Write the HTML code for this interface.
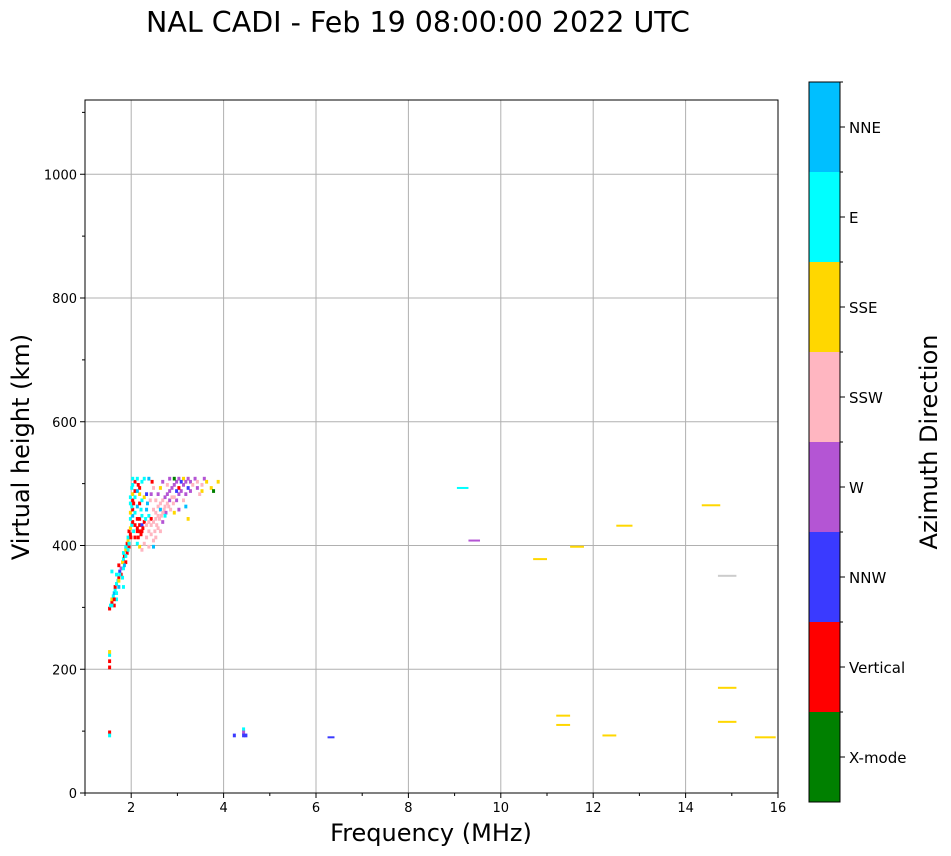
<!DOCTYPE html>
<html><head><meta charset="utf-8"><style>
body{margin:0;background:#fff;}
svg{display:block;font-family:"DejaVu Sans","Liberation Sans",sans-serif;}
</style></head><body>
<svg id="chart" width="951" height="856" viewBox="0 0 951 856" xmlns="http://www.w3.org/2000/svg">
<text x="418" y="32" font-size="28.5" text-anchor="middle">NAL CADI - Feb 19 08:00:00 2022 UTC</text>
<g id="grid"></g>
<g id="marks"></g>
<rect x="85" y="100" width="693" height="693" fill="none" stroke="#000" stroke-width="1"/>
<g id="axes"></g>
<text x="431" y="841" font-size="24" text-anchor="middle">Frequency (MHz)</text>
<text transform="translate(29,447) rotate(-90)" font-size="24" text-anchor="middle">Virtual height (km)</text>
<g id="cbar"></g>
<text transform="translate(937,442) rotate(-90)" font-size="24" text-anchor="middle">Azimuth Direction</text>
</svg>
<script>
const categories=["X-mode","Vertical","NNW","W","SSW","SSE","E","NNE"];
const colors=["#008000","#ff0000","#3a3aff","#b455d4","#ffb6c1","#ffd700","#00ffff","#00bfff","#cccccc"];
const xTicks=[2,4,6,8,10,12,14,16];
const yTicks=[0,200,400,600,800,1000];
// cells: [freq, height, colorIndex]
const cells=[
[1.50,295,1],[1.52,300,6],[1.55,305,1],[1.55,310,5],[1.58,315,6],[1.60,320,7],[1.62,325,6],[1.62,330,1],[1.65,335,6],[1.68,340,6],[1.70,345,1],[1.65,350,6],[1.55,355,6],[1.72,355,2],[1.75,360,3],[1.70,365,1],[1.78,370,5],[1.80,375,6],[1.82,380,1],[1.80,385,6],[1.85,390,5],[1.85,395,6],[1.88,400,1],[1.90,405,5],[1.90,410,6],[1.95,415,1],[1.92,420,1],[1.95,425,5],[1.98,430,6],[2.00,435,1],[1.95,440,6],[2.00,445,7],[1.95,450,5],[2.00,455,1],[1.98,460,6],[1.95,465,6],[2.00,470,1],[1.95,475,6],[2.00,480,5],[1.98,490,6],[2.05,500,1],[2.10,505,6],[1.60,300,1],[1.65,310,6],[1.70,330,7],[1.75,350,1],[1.80,360,6],[1.85,370,1],[1.88,385,1],[1.92,395,1],[1.80,330,6],
[1.55,300,6],[1.60,310,1],[1.65,320,6],[1.70,340,5],[1.72,350,6],[1.78,345,6],[1.82,365,7],[1.85,380,6],[1.90,390,6],[1.92,400,6],[1.96,410,1],[2.02,420,6],[2.05,430,1],[2.02,465,1],[2.05,475,6],[2.05,485,1],[2.00,495,6],[2.00,505,6],[2.12,495,1],[2.15,480,5],[2.18,455,6],
[2.10,420,1],[2.15,420,1],[2.20,420,1],[2.10,425,1],[2.15,430,1],[2.20,430,2],[2.25,435,1],[2.10,440,1],[2.15,440,1],[2.20,445,6],[2.05,410,1],[2.10,400,6],[2.15,395,5],[2.20,390,4],[2.25,400,4],[2.30,410,4],[2.35,420,4],[2.05,450,6],[2.10,460,7],[2.15,465,1],[2.20,470,6],[2.25,475,5],[2.30,480,2],[2.15,490,1],[2.20,500,6],[2.25,505,6],[2.10,485,7],[2.30,455,7],[2.35,445,6],[2.40,440,1],[2.45,395,7],
[2.12,410,1],[2.18,415,1],[2.22,425,1],[2.28,440,6],[2.30,430,4],[2.35,435,4],[2.32,465,7],[2.38,470,4],[2.40,480,3],[2.45,490,4],[2.42,500,1],[2.35,505,7],[2.50,470,4],[2.55,480,3],[2.60,490,5],[2.48,420,4],[2.52,430,4],[2.58,440,4],[2.62,445,4],[2.68,455,4],[2.72,450,3],[2.78,460,4],[2.82,455,4],[2.88,465,4],[2.95,470,3],[3.05,485,3],[3.10,505,5],[3.15,500,3],[3.25,485,3],[3.35,505,3],[3.40,500,4],[3.50,495,4],[2.65,500,3],[2.75,495,4],[2.35,395,4],[2.45,405,4],[2.40,415,4],
[2.40,430,4],[2.45,435,4],[2.50,440,4],[2.55,445,4],[2.50,450,4],[2.45,455,4],[2.55,460,4],[2.60,465,4],[2.65,470,4],[2.60,455,7],[2.65,450,4],[2.55,425,4],[2.60,420,4],[2.50,410,4],[2.70,475,3],[2.75,480,3],[2.80,485,3],[2.70,460,4],[2.75,465,4],[2.80,470,3],[2.85,475,4],[2.85,490,3],[2.90,495,3],[2.95,500,3],[2.80,505,3],[2.90,505,0],[3.00,505,3],[3.05,500,2],[3.10,495,3],[3.00,490,1],[3.15,480,3],[3.20,490,2],[3.10,470,4],[3.00,480,3],[2.95,485,2],[2.90,475,4],[3.20,440,5],[3.20,505,3],[3.25,500,3],[3.30,495,4],[3.40,490,3],[3.50,485,5],[3.55,505,3],[3.60,500,5],[3.70,490,5],[3.75,485,0],[3.85,500,5],[3.45,480,4],[3.15,460,7],[3.00,455,3],[2.90,450,5],[2.70,445,6],[2.65,435,3],
[1.50,200,1],[1.50,210,1],[1.50,220,6],[1.50,225,5],[1.50,95,1],[1.50,90,6],[4.40,100,6],[4.40,95,3],[4.40,90,2],[4.20,90,2],[4.45,90,2]
];
// lines: [freqStart, freqEnd, height, colorIndex]
const lines=[[9.05,9.3,493,6],[9.3,9.55,408,3],[10.7,11.0,378,5],[11.5,11.8,398,5],[12.5,12.85,432,5],[14.35,14.75,465,5],[14.7,15.1,351,8],[14.7,15.1,170,5],[14.7,15.1,115,5],[11.2,11.5,125,5],[11.2,11.5,110,5],[12.2,12.5,93,5],[15.5,15.95,90,5],[6.25,6.4,90,2]];
const NS="http://www.w3.org/2000/svg";
const X0=85,X1=778,Y0=793,Y1=100,XMIN=1,XMAX=16,YMIN=0,YMAX=1120;
const xs=f=>X0+(f-XMIN)/(XMAX-XMIN)*(X1-X0);
const ys=h=>Y0-(h-YMIN)/(YMAX-YMIN)*(Y0-Y1);
function mk(t,a,p){const e=document.createElementNS(NS,t);for(const k in a)e.setAttribute(k,a[k]);p.appendChild(e);return e;}
const grid=document.getElementById('grid'),marks=document.getElementById('marks'),axes=document.getElementById('axes'),cb=document.getElementById('cbar');
xTicks.forEach(v=>{const l=mk('line',{x1:xs(v),x2:xs(v),y1:Y1,y2:Y0,stroke:'#b0b0b0','stroke-width':1},grid);

const t=mk('line',{x1:xs(v),x2:xs(v),y1:Y0,y2:Y0+5,stroke:'#000'},axes);

const tx=mk('text',{x:xs(v),y:Y0+19,'font-size':13,'text-anchor':'middle'},axes);tx.textContent=v;
});
for(let v=1;v<16;v+=2){const t=mk('line',{x1:xs(v),x2:xs(v),y1:Y0,y2:Y0+3,stroke:'#000'},axes);}
yTicks.forEach(v=>{const l=mk('line',{x1:X0,x2:X1,y1:ys(v),y2:ys(v),stroke:'#b0b0b0','stroke-width':1},grid);

const t=mk('line',{x1:X0-5,x2:X0,y1:ys(v),y2:ys(v),stroke:'#000'},axes);

const tx=mk('text',{x:X0-8,y:ys(v)+5,'font-size':13,'text-anchor':'end'},axes);tx.textContent=v;
});
for(let v=100;v<1120;v+=200){const t=mk('line',{x1:X0-3,x2:X0,y1:ys(v),y2:ys(v),stroke:'#000'},axes);}
const cw=xs(1.065)-xs(1),ch=ys(0)-ys(6);
cells.forEach(c=>{const r=mk('rect',{x:xs(c[0]),y:ys(c[1])-ch,width:cw,height:ch,fill:colors[c[2]]},marks);
});
lines.forEach(c=>{const r=mk('rect',{x:xs(c[0]),y:ys(c[2])-1,width:xs(c[1])-xs(c[0]),height:2,fill:colors[c[3]]},marks);
});
const CX=809,CW=31,CT=82,CB=802,seg=(CB-CT)/categories.length;
categories.forEach((n,i)=>{const y=CB-(i+1)*seg;
const r=mk('rect',{x:CX,y:y,width:CW,height:seg,fill:colors[i]},cb);

const t=mk('line',{x1:CX+CW,x2:CX+CW+5,y1:y+seg/2,y2:y+seg/2,stroke:'#000'},cb);

const m=mk('line',{x1:CX+CW,x2:CX+CW+3,y1:y,y2:y,stroke:'#000'},cb);

const tx=mk('text',{x:CX+CW+9,y:y+seg/2+6,'font-size':15},cb);tx.textContent=n;
});
const fr=mk('rect',{x:CX,y:CT,width:CW,height:CB-CT,fill:'none',stroke:'#000'},cb);

</script>
</body></html>
